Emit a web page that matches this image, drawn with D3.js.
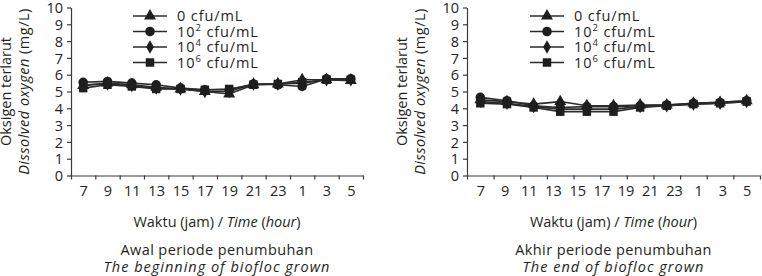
<!DOCTYPE html>
<meta charset="utf-8">
<style>
body { margin: 0; background: #fff; }
svg text { font-family: "Open Sans", "Noto Sans", sans-serif; fill: #231f20; }
.axis path, .axis line { stroke: #3a3a3a; stroke-width: 1.2; }
.axis text { font-size: 14.5px; }
.line { fill: none; stroke: #2b2b2b; stroke-width: 1.6; }
.mark { fill: #1e1e1e; }
</style>
<body>
<div id="chart"></div>
<script src="https://d3js.org/d3.v7.min.js"></script>
<script>
// time labels (hours)
var hours = ["7", "9", "11", "13", "15", "17", "19", "21", "23", "1", "3", "5"];
var seriesNames = ["0", "2", "4", "6"];   // exponent of cfu/mL, "0" = 0 cfu/mL
var markers = ["triangle", "circle", "diamond", "square"];

// awal periode (12 points)
var awal0 = [5.35, 5.5, 5.4, 5.25, 5.15, 5.0, 4.85, 5.4, 5.45, 5.7, 5.7, 5.65];
var awal2 = [5.55, 5.6, 5.5, 5.4, 5.2, 5.1, 5.1, 5.45, 5.4, 5.3, 5.75, 5.75];
var awal4 = [5.4, 5.45, 5.35, 5.2, 5.15, 5.0, 5.0, 5.45, 5.45, 5.5, 5.7, 5.7];
var awal6 = [5.2, 5.4, 5.3, 5.15, 5.15, 5.1, 5.15, 5.4, 5.45, 5.55, 5.7, 5.7];

// akhir periode (11 points)
var akhir0 = [4.5, 4.4, 4.25, 4.4, 4.15, 4.15, 4.2, 4.2, 4.3, 4.35, 4.45];
var akhir2 = [4.65, 4.45, 4.15, 4.05, 4.1, 4.1, 4.15, 4.2, 4.3, 4.35, 4.45];
var akhir4 = [4.4, 4.3, 4.1, 3.95, 3.95, 3.95, 4.1, 4.15, 4.25, 4.3, 4.4];
var akhir6 = [4.3, 4.25, 4.05, 3.8, 3.8, 3.8, 4.05, 4.15, 4.25, 4.3, 4.4];

var yTicks = d3.range(0, 11);

var svg = d3.select("#chart").append("svg")
    .attr("width", 762).attr("height", 276);

var symbolType = {
    triangle: d3.symbolTriangle,
    circle: d3.symbolCircle,
    diamond: d3.symbolDiamond,
    square: d3.symbolSquare
};
var symbolSize = { triangle: 62, circle: 72, diamond: 52, square: 72 };

function drawMarker(g, type, x, y) {
    g.append("path")
        .attr("class", "mark")
        .attr("transform", "translate(" + x + "," + y + ")")
        .attr("d", d3.symbol().type(symbolType[type]).size(symbolSize[type])());
}

function panel(left, right, series, title1, title2, legendX) {
    var top = 7.5, bottom = 175.5;
    var n = series[0].length;

    var y = d3.scaleLinear().domain([0, 10]).range([bottom, top]);
    var xEdge = d3.scaleLinear().domain([0, n]).range([left, right]);
    var x = function(i) { return xEdge(i + 0.5); };
    var xLab = d3.scalePoint().domain(hours).range([x(0), x(n - 1)]);

    var g = svg.append("g");

    // y axis
    g.append("g").attr("class", "axis")
        .attr("transform", "translate(" + left + ",0)")
        .call(d3.axisLeft(y).tickValues(yTicks).tickSize(4).tickSizeOuter(0).tickPadding(4))
        .call(function(a) { a.selectAll("text").attr("dy", "0.36em"); });

    // x axis ticks at category boundaries
    g.append("g").attr("class", "axis")
        .attr("transform", "translate(0," + bottom + ")")
        .call(d3.axisBottom(xEdge).tickValues(d3.range(n + 1)).tickFormat("").tickSize(4).tickSizeOuter(0));

    // x labels
    var lab = g.append("g").attr("class", "axis")
        .attr("transform", "translate(0," + bottom + ")")
        .call(d3.axisBottom(xLab).tickSize(0).tickPadding(10));
    lab.select(".domain").remove();

    // lines + markers
    var line = d3.line().x(function(d, i) { return x(i); }).y(function(d) { return y(d); });
    series.forEach(function(s, k) {
        g.append("path").datum(s).attr("class", "line").attr("d", line);
    });
    series.forEach(function(s, k) {
        s.forEach(function(v, i) { drawMarker(g, markers[k], x(i), y(v)); });
    });

    // y title
    var cy = (top + bottom) / 2;
    g.append("text")
        .attr("transform", "translate(" + (left - 65) + "," + cy + ") rotate(-90)")
        .attr("text-anchor", "middle").attr("font-size", 14.5).attr("dy", "0.35em")
        .text("Oksigen terlarut");
    var t2 = g.append("text")
        .attr("transform", "translate(" + (left - 47) + "," + cy + ") rotate(-90)")
        .attr("text-anchor", "middle").attr("font-size", 14.5).attr("dy", "0.35em")
        .attr("letter-spacing", 0.5);
    t2.append("tspan").attr("font-style", "italic").text("Dissolved oxygen");
    t2.append("tspan").text(" (mg/L)");

    // x title
    var cx = (left + right) / 2;
    var xt = g.append("text").attr("x", cx).attr("y", 227)
        .attr("text-anchor", "middle").attr("font-size", 14.5);
    xt.append("tspan").text("Waktu (jam) / ");
    xt.append("tspan").attr("font-style", "italic").text("Time");
    xt.append("tspan").text(" (");
    xt.append("tspan").attr("font-style", "italic").text("hour");
    xt.append("tspan").text(")");

    g.append("text").attr("x", cx).attr("y", 255)
        .attr("text-anchor", "middle").attr("font-size", 14.5)
        .attr("letter-spacing", 0.4).text(title1);
    g.append("text").attr("x", cx).attr("y", 272)
        .attr("text-anchor", "middle").attr("font-size", 14.5)
        .attr("letter-spacing", 1).attr("font-style", "italic").text(title2);

    // legend
    var ly = d3.scalePoint().domain(seriesNames).range([16, 62.5]);
    seriesNames.forEach(function(s, k) {
        var yy = ly(s);
        g.append("line").attr("x1", legendX).attr("x2", legendX + 34)
            .attr("y1", yy).attr("y2", yy)
            .attr("stroke", "#2b2b2b").attr("stroke-width", 1.6);
        drawMarker(g, markers[k], legendX + 17, yy);
        var t = g.append("text").attr("x", legendX + 44).attr("y", yy)
            .attr("dy", "0.35em").attr("font-size", 14.5).attr("letter-spacing", 0.9);
        if (s === "0") {
            t.text("0 cfu/mL");
        } else {
            t.append("tspan").text("10");
            t.append("tspan").attr("font-size", 9.5).attr("dy", -6).text(s);
            t.append("tspan").attr("dy", 6).text(" cfu/mL");
        }
    });
}

panel(71, 363, [awal0, awal2, awal4, awal6],
    "Awal periode penumbuhan", "The beginning of biofloc grown", 133);
panel(467, 760, [akhir0, akhir2, akhir4, akhir6],
    "Akhir periode penumbuhan", "The end of biofloc grown", 530);
</script>
</body>
